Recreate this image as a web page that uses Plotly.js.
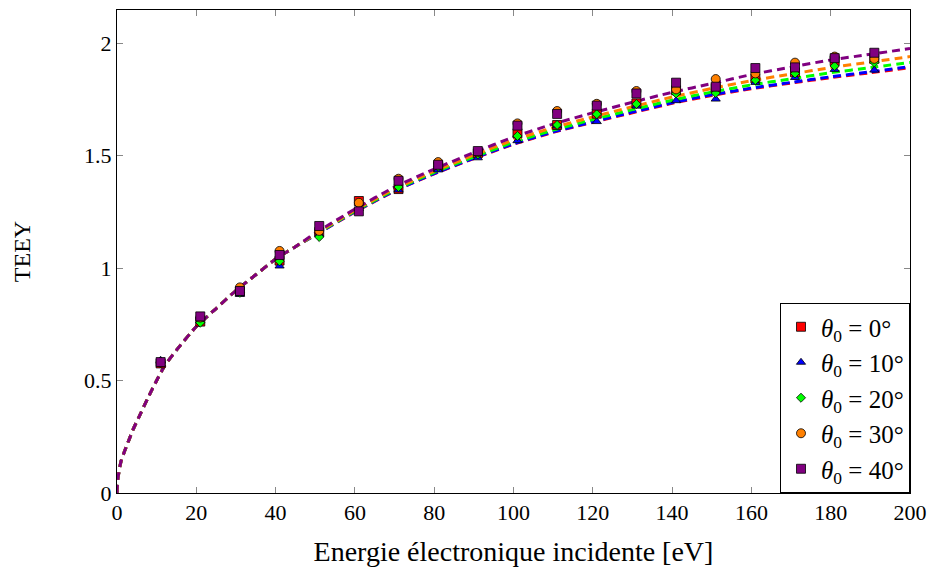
<!DOCTYPE html>
<html>
<head>
<meta charset="utf-8">
<script src="https://cdn.plot.ly/plotly-3.0.1.min.js"></script>
<style>body{margin:0;background:#fff}#chart{width:936px;height:576px}</style>
</head>
<body>
<div id="chart"></div>
<script>
// Measured points (incident energy, eV)
const energies = [11, 21, 31, 41, 51, 61, 71, 81, 91, 101, 111, 121, 131, 141, 151, 161, 171, 181, 191];
const teey0  = [0.576, 0.762, 0.895, 1.033, 1.160, 1.298, 1.351, 1.450, 1.510, 1.599, 1.636, 1.686, 1.732, 1.790, 1.800, 1.843, 1.870, 1.920, 1.930];
const teey10 = [0.590, 0.765, 0.883, 1.009, 1.150, 1.265, 1.347, 1.436, 1.490, 1.566, 1.632, 1.651, 1.720, 1.744, 1.751, 1.825, 1.847, 1.883, 1.880];
const teey20 = [0.580, 0.757, 0.890, 1.030, 1.138, 1.265, 1.360, 1.450, 1.505, 1.587, 1.636, 1.684, 1.729, 1.776, 1.778, 1.835, 1.865, 1.898, 1.914];
const teey30 = [0.580, 0.780, 0.914, 1.076, 1.165, 1.290, 1.397, 1.471, 1.515, 1.643, 1.698, 1.730, 1.787, 1.794, 1.840, 1.865, 1.913, 1.940, 1.930];
const teey40 = [0.582, 0.785, 0.898, 1.058, 1.187, 1.252, 1.388, 1.459, 1.520, 1.633, 1.685, 1.722, 1.776, 1.824, 1.806, 1.889, 1.892, 1.933, 1.957];

// Fitted curves (dashed)
const fitX   = [0, 0.2, 1, 2, 3, 4, 6, 8, 10, 12, 15, 20, 25, 30, 35, 40, 45, 50, 60, 70, 80, 90, 100, 110, 120, 130, 140, 150, 160, 170, 180, 190, 200];
const fitLow = [0, 0.06, 0.14, 0.19, 0.235, 0.28, 0.355, 0.43, 0.50, 0.565, 0.635, 0.74, 0.82, 0.90, 0.97, 1.04, 1.095];
const fit0  = fitLow.concat([1.147, 1.249, 1.342, 1.419, 1.487, 1.550, 1.603, 1.648, 1.690, 1.732, 1.767, 1.797, 1.822, 1.846, 1.868, 1.890]);
const fit10 = fitLow.concat([1.147, 1.250, 1.343, 1.420, 1.488, 1.552, 1.605, 1.650, 1.693, 1.735, 1.770, 1.800, 1.825, 1.850, 1.872, 1.895]);
const fit20 = fitLow.concat([1.149, 1.253, 1.347, 1.425, 1.494, 1.559, 1.613, 1.660, 1.704, 1.746, 1.782, 1.814, 1.841, 1.868, 1.891, 1.914]);
const fit30 = fitLow.concat([1.151, 1.257, 1.352, 1.431, 1.502, 1.569, 1.624, 1.672, 1.717, 1.760, 1.798, 1.833, 1.862, 1.891, 1.915, 1.940]);
const fit40 = fitLow.concat([1.155, 1.262, 1.360, 1.440, 1.513, 1.582, 1.640, 1.690, 1.737, 1.781, 1.820, 1.860, 1.893, 1.925, 1.950, 1.976]);

const names  = ['<i>θ</i><sub>0</sub> = 0°', '<i>θ</i><sub>0</sub> = 10°', '<i>θ</i><sub>0</sub> = 20°', '<i>θ</i><sub>0</sub> = 30°', '<i>θ</i><sub>0</sub> = 40°'];
const colors = ['#ff0000', '#0000ff', '#00ff00', '#ff8000', '#800080'];
const symbols = ['square', 'triangle-up', 'diamond', 'circle', 'square'];
const sizes = [9, 8, 7, 9, 9];
const fits = [fit0, fit10, fit20, fit30, fit40];
const pts = [teey0, teey10, teey20, teey30, teey40];

const traces = [];
fits.forEach((f, i) => traces.push({
  x: fitX, y: f, mode: 'lines', showlegend: false, hoverinfo: 'skip',
  line: {color: colors[i], width: 3, dash: '8px,5px', shape: 'spline', smoothing: 0.6}
}));
pts.forEach((p, i) => traces.push({
  x: energies, y: p, mode: 'markers', name: names[i],
  marker: {color: colors[i], symbol: symbols[i], size: sizes[i], line: {color: '#000', width: 0.8}}
}));

const serif = "'Liberation Serif', 'DejaVu Serif', serif";
const axisBase = {
  showline: true, linecolor: '#000', linewidth: 1, mirror: 'ticks',
  ticks: 'inside', ticklen: 6, tickcolor: '#888', tickwidth: 1,
  showgrid: false, zeroline: false, tickfont: {family: serif, size: 22, color: '#000'}
};
const layout = {
  width: 936, height: 576,
  margin: {l: 117, r: 26, t: 10, b: 83},
  paper_bgcolor: '#fff', plot_bgcolor: '#fff',
  font: {family: serif, color: '#000'},
  xaxis: Object.assign({}, axisBase, {range: [0, 200], dtick: 20, tick0: 0,
    title: {text: 'Energie électronique incidente [eV]', font: {family: serif, size: 28, color: '#000'}, standoff: 16}}),
  yaxis: Object.assign({}, axisBase, {range: [0, 2.147], dtick: 0.5, tick0: 0,
    title: {text: 'TEEY', font: {family: serif, size: 24, color: '#000'}, standoff: 46}}),
  legend: {x: 1, y: 0, xanchor: 'right', yanchor: 'bottom', bordercolor: '#000', borderwidth: 1,
    bgcolor: '#fff', font: {family: serif, size: 25, color: '#000'}, itemwidth: 30, tracegroupgap: 0},
  showlegend: true
};
Plotly.newPlot('chart', traces, layout, {displayModeBar: false, staticPlot: true});
</script>
</body>
</html>
